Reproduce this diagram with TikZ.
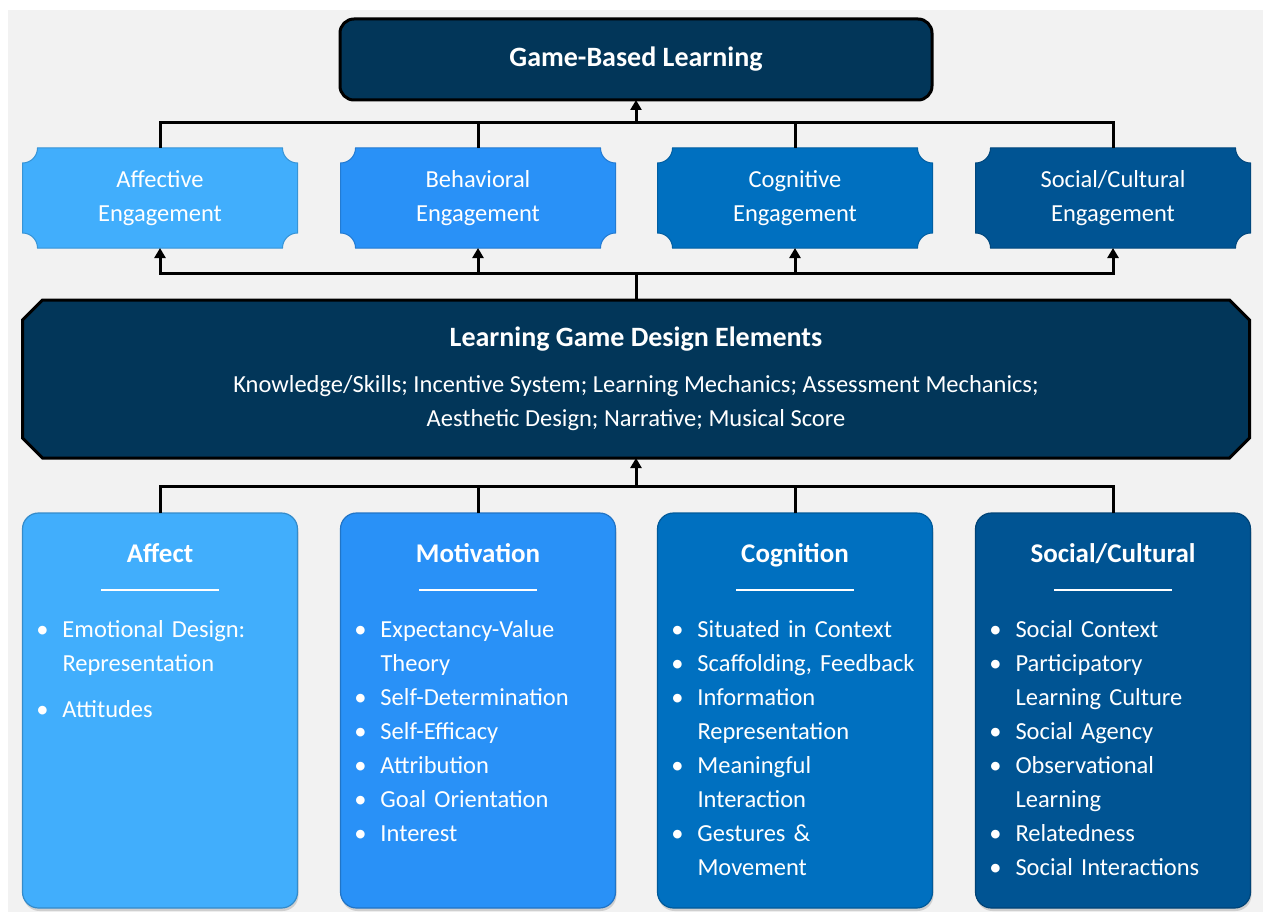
\documentclass[tikz,border=0pt]{standalone}
\usepackage{fontspec}
\setmainfont{Carlito}
\usetikzlibrary{arrows.meta,positioning,backgrounds,shadows}

\definecolor{paper}{HTML}{F2F2F2}
\definecolor{navy}{HTML}{023659}
\definecolor{affc}{HTML}{41AEFC}
\definecolor{behc}{HTML}{2991F7}
\definecolor{cogc}{HTML}{0070C0}
\definecolor{socc}{HTML}{005493}

% one bullet line of a card, text hangs at \leftskip
\newcommand\bul[1]{\par\noindent\llap{\textbullet\hskip 14pt}\strut#1\par}
% bold card title with a short white rule under it
\newcommand\cardhead[1]{%
  {\centering\noindent\bfseries\fontsize{27}{34}\selectfont\strut#1\par}%
  \nointerlineskip\vskip 17pt
  \hbox to \hsize{\hss\rule{118pt}{1.5pt}\hss}%
  \nointerlineskip\vskip 22.5pt
  \raggedright\leftskip=40pt\relax}

\tikzset{
  wire/.style={line width=3pt},
  arrowed/.style={-{Triangle[width=11pt,length=10pt]}},
  boxtext/.style={text=white, inner sep=0pt, outer sep=0pt, align=center},
  engage/.style={boxtext, minimum width=275pt, minimum height=100pt,
    font=\fontsize{24.5}{34}\selectfont},
  card/.style={rectangle, rounded corners=16pt, fill=#1, draw=#1!80!black,
    line width=1.2pt, minimum width=275pt, minimum height=395pt, outer sep=0pt,
    drop shadow={opacity=0.3, shadow xshift=1pt, shadow yshift=-3pt}},
  cardtext/.style={text=white, text width=275pt, inner sep=0pt,
    font=\fontsize{24.5}{34}\selectfont}
}

\begin{document}
\begin{tikzpicture}[x=1pt,y=-1pt] % units are pixels, y runs down
\useasboundingbox (0,0) rectangle (1268,912);

% top of the tree
\node[boxtext, rectangle, rounded corners=14pt, fill=navy, draw=black, line width=3pt,
  minimum width=592pt, minimum height=81pt, font=\bfseries\fontsize{28}{34}\selectfont]
  (gbl) at (636,59.5) {Game-Based Learning};

% four kinds of engagement
\node[engage] (aff-e) at (160,198) {Affective\\Engagement};
\node[engage] (beh-e) at (478,198) {Behavioral\\Engagement};
\node[engage] (cog-e) at (795,198) {Cognitive\\Engagement};
\node[engage] (soc-e) at (1113,198) {Social/Cultural\\Engagement};

% design elements
\node[boxtext, minimum width=1227pt, minimum height=158pt, font=\fontsize{24.5}{34}\selectfont]
  (lgde) at (636,379) {{\bfseries\fontsize{28}{34}\selectfont Learning Game Design Elements}\\[12pt]
  Knowledge/Skills; Incentive System; Learning Mechanics; Assessment Mechanics;\\
  Aesthetic Design; Narrative; Musical Score};

% the four foundation cards
\node[card=affc] (affect) at (160,710.5) {};
\node[card=behc] (motiv) at (478,710.5) {};
\node[card=cogc] (cognit) at (795,710.5) {};
\node[card=socc] (social) at (1113,710.5) {};

\node[cardtext, below=25pt of affect.north] (affect-t) {\cardhead{Affect}
  \bul{Emotional Design:\newline Representation}\vskip 12pt
  \bul{Attitudes}};
\node[cardtext, below=25pt of motiv.north] (motiv-t) {\cardhead{Motivation}
  \bul{Expectancy-Value\newline Theory}
  \bul{Self-Determination}
  \bul{Self-Efficacy}
  \bul{Attribution}
  \bul{Goal Orientation}
  \bul{Interest}};
\node[cardtext, below=25pt of cognit.north] (cognit-t) {\cardhead{Cognition}
  \bul{Situated in Context}
  \bul{Scaffolding, Feedback}
  \bul{Information\newline Representation}
  \bul{Meaningful\newline Interaction}
  \bul{Gestures \&\newline Movement}};
\node[cardtext, below=25pt of social.north] (social-t) {\cardhead{Social/Cultural}
  \bul{Social Context}
  \bul{Participatory\newline Learning Culture}
  \bul{Social Agency}
  \bul{Observational\newline Learning}
  \bul{Relatedness}
  \bul{Social Interactions}};

% shapes behind the text
\begin{pgfonlayer}{background}
\fill[white] (0,0) rectangle (1268,912);
\fill[paper] (8,10) rectangle (1263,912);
\foreach \n/\c in {aff-e/affc, beh-e/behc, cog-e/cogc, soc-e/socc}
  \filldraw[fill=\c, draw=\c!85!black, line width=1pt]
    ([xshift=15pt]\n.north west) -- ([xshift=-15pt]\n.north east)
    .. controls ([xshift=-15pt,yshift=-8.3pt]\n.north east) and ([xshift=-8.3pt,yshift=-15pt]\n.north east) .. ([yshift=-15pt]\n.north east)
    -- ([yshift=15pt]\n.south east)
    .. controls ([xshift=-8.3pt,yshift=15pt]\n.south east) and ([xshift=-15pt,yshift=8.3pt]\n.south east) .. ([xshift=-15pt]\n.south east)
    -- ([xshift=15pt]\n.south west)
    .. controls ([xshift=15pt,yshift=8.3pt]\n.south west) and ([xshift=8.3pt,yshift=15pt]\n.south west) .. ([yshift=15pt]\n.south west)
    -- ([yshift=-15pt]\n.north west)
    .. controls ([xshift=8.3pt,yshift=-15pt]\n.north west) and ([xshift=15pt,yshift=-8.3pt]\n.north west) .. cycle;
\filldraw[fill=navy, draw=black, line width=3pt]
  ([xshift=20pt]lgde.north west) -- ([xshift=-20pt]lgde.north east)
  -- ([yshift=-20pt]lgde.north east) -- ([yshift=20pt]lgde.south east)
  -- ([xshift=-20pt]lgde.south east) -- ([xshift=20pt]lgde.south west)
  -- ([yshift=20pt]lgde.south west) -- ([yshift=-20pt]lgde.north west) -- cycle;
\end{pgfonlayer}

% connectors
\coordinate (top-bus) at (636,123);
\coordinate (mid-bus) at (636,273);
\coordinate (low-bus) at (636,486);
\foreach \n in {aff-e,beh-e,cog-e,soc-e} {
  \draw[wire] (\n.north) |- (top-bus);
  \draw[wire,arrowed] (mid-bus) -| (\n.south);
}
\draw[wire,arrowed] (top-bus) -- (gbl.south);
\draw[wire] (lgde.north) -- (mid-bus);
\foreach \n in {affect,motiv,cognit,social}
  \draw[wire] (\n.north) |- (low-bus);
\draw[wire,arrowed] (low-bus) -- (lgde.south);
\end{tikzpicture}
\end{document}
